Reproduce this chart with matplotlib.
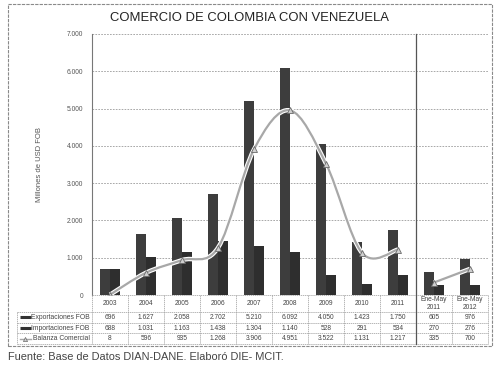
import numpy as np
import matplotlib.pyplot as plt
import matplotlib.transforms as mtransforms
from matplotlib.path import Path
from matplotlib.patches import PathPatch, Rectangle

plt.rcParams['font.family'] = ['Liberation Sans', 'DejaVu Sans']

# data
categories = ["2003", "2004", "2005", "2006", "2007", "2008", "2009", "2010", "2011",
              "Ene-May\n2011", "Ene-May\n2012"]
exportaciones = [696, 1627, 2058, 2702, 5210, 6092, 4050, 1423, 1750, 605, 976]
importaciones = [688, 1031, 1163, 1438, 1304, 1140, 528, 291, 534, 270, 276]
balanza = [8, 596, 935, 1268, 3906, 4951, 3522, 1131, 1217, 335, 700]
row_names = ["Exportaciones FOB", "Importaciones FOB", "Balanza Comercial"]


def fmt(v):
    return f"{v:,}".replace(",", ".")


def smooth_path(xs, ys):
    # Catmull-Rom style smoothing like Excel's "smoothed line"
    verts = [(xs[0], ys[0])]
    codes = [Path.MOVETO]
    n = len(xs)
    for i in range(n - 1):
        x0, y0 = (xs[i - 1], ys[i - 1]) if i > 0 else (xs[i], ys[i])
        x1, y1 = xs[i], ys[i]
        x2, y2 = xs[i + 1], ys[i + 1]
        x3, y3 = (xs[i + 2], ys[i + 2]) if i + 2 < n else (x2, y2)
        c1 = (x1 + (x2 - x0) / 6, y1 + (y2 - y0) / 6)
        c2 = (x2 - (x3 - x1) / 6, y2 - (y3 - y1) / 6)
        verts += [c1, c2, (x2, y2)]
        codes += [Path.CURVE4] * 3
    return Path(verts, codes)


W, H = 499, 368
AX_W, AX_H = 396, 261
fig = plt.figure(figsize=(W / 100, H / 100), dpi=100)
ax = fig.add_axes([92 / W, 1 - 295 / H, AX_W / W, AX_H / H])

x = np.arange(len(categories))
bw = 0.28
ax.bar(x - bw / 2, exportaciones, bw, color="#3d3d3d", zorder=2)
ax.bar(x + bw / 2, importaciones, bw, color="#2e2e2e", zorder=2)

line_col = "#a8a8a8"
for sl in (slice(0, 9), slice(9, 11)):
    xs = x[sl].astype(float)
    ys = np.array(balanza[sl], dtype=float)
    ax.add_patch(PathPatch(smooth_path(xs, ys), fill=False, edgecolor="white", lw=3.2, zorder=3))
    ax.add_patch(PathPatch(smooth_path(xs, ys), fill=False, edgecolor=line_col, lw=1.6, zorder=4))
    ax.plot(xs, ys, linestyle="none", marker="^", ms=5, mfc="#cfcfcf", mec="#6a6a6a", mew=0.6, zorder=5)

ax.set_xlim(-0.5, len(categories) - 0.5)
ax.set_ylim(0, 7000)
ax.set_yticks(np.arange(0, 7001, 1000))
ax.set_yticklabels([fmt(v) for v in range(0, 7001, 1000)], fontsize=4.8, color="#555555")
ax.tick_params(axis="y", length=0, pad=6.5)
ax.set_xticks([])
ax.grid(axis="y", color="#9a9a9a", lw=0.6, linestyle=(0, (2, 1.5)), zorder=0)
for s in ["top", "right", "bottom"]:
    ax.spines[s].set_visible(False)
ax.spines["left"].set_color("#777777")
ax.spines["left"].set_linewidth(0.8)
ax.set_ylabel("Millones de USD FOB", fontsize=5.5, color="#555555", labelpad=17)

# data table under the axes: x in data units, y in axes units
tr = mtransforms.blended_transform_factory(ax.transData, ax.transAxes)
hdr_h = 17 / AX_H
row_h = 10.7 / AX_H
lab_left = -0.5 - 75 / AX_W * len(categories)   # label column in data units
bottom = -(hdr_h + 3 * row_h)
edge = dict(color="#9a9a9a", lw=0.5, linestyle=(0, (2, 1)), transform=tr, clip_on=False, zorder=6)

ax.plot([-0.5, 10.5], [0, 0], **edge)
for k in range(4):
    yy = -hdr_h - k * row_h
    ax.plot([lab_left, 10.5], [yy, yy], **edge)
for xb in np.arange(-0.5, 11, 1.0):
    ax.plot([xb, xb], [0, bottom], **edge)
ax.plot([lab_left, lab_left], [-hdr_h, bottom], **edge)
ax.plot([8.5, 8.5], [1, bottom], color="#555555", lw=0.9, transform=tr, clip_on=False, zorder=7)

for i, cat in enumerate(categories):
    ax.text(i, -hdr_h / 2, cat, transform=tr, ha="center", va="center", fontsize=4.8,
            color="#444444", linespacing=1.25)
rows = [exportaciones, importaciones, balanza]
for r, vals in enumerate(rows):
    yy = -hdr_h - (r + 0.5) * row_h
    for i, v in enumerate(vals):
        ax.text(i, yy, fmt(v), transform=tr, ha="center", va="center", fontsize=4.8,
                color="#444444")
    ax.text(-0.56, yy, row_names[r], transform=tr, ha="right", va="center", fontsize=4.9,
            color="#444444")
    kx0, kx1 = lab_left + 0.08, lab_left + 0.38
    if r < 2:
        ax.plot([kx0, kx1], [yy, yy], transform=tr, clip_on=False, color="#333333", lw=2.2,
                solid_capstyle="butt")
    else:
        ax.plot([kx0, kx1], [yy, yy], transform=tr, clip_on=False, color=line_col, lw=1.0)
        ax.plot([(kx0 + kx1) / 2], [yy], transform=tr, clip_on=False, marker="^", ms=3,
                mfc="#cfcfcf", mec="#6a6a6a", mew=0.5)

fig.text(0.5, 1 - 18 / H, "COMERCIO DE COLOMBIA CON VENEZUELA", ha="center", va="center",
         fontsize=9.4, color="#222222")
fig.text(8 / W, 1 - 357 / H, "Fuente: Base de Datos DIAN-DANE. Elaboró DIE- MCIT.",
         ha="left", va="center", fontsize=7.9, color="#444444")
fig.add_artist(Rectangle((8 / W, 1 - 346 / H), 484 / W, 342 / H, transform=fig.transFigure,
                         fill=False, edgecolor="#8a8a8a", lw=0.8, linestyle=(0, (3, 1))))

fig.savefig("out.png", dpi=100)
